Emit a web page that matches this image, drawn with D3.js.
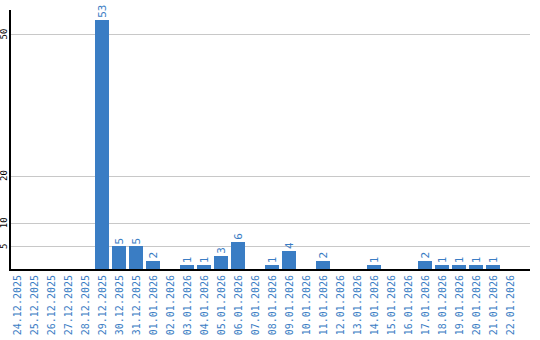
<!DOCTYPE html>
<html>
<head>
<meta charset="utf-8">
<script src="https://cdn.jsdelivr.net/npm/d3@7"></script>
<style>
  body { margin: 0; background: #fff; }
  svg { display: block; }
</style>
</head>
<body>
<script>
// даты и количество
const dates = [
  "24.12.2025", "25.12.2025", "26.12.2025", "27.12.2025", "28.12.2025",
  "29.12.2025", "30.12.2025", "31.12.2025", "01.01.2026", "02.01.2026",
  "03.01.2026", "04.01.2026", "05.01.2026", "06.01.2026", "07.01.2026",
  "08.01.2026", "09.01.2026", "10.01.2026", "11.01.2026", "12.01.2026",
  "13.01.2026", "14.01.2026", "15.01.2026", "16.01.2026", "17.01.2026",
  "18.01.2026", "19.01.2026", "20.01.2026", "21.01.2026", "22.01.2026"
];
const counts = [0, 0, 0, 0, 0, 53, 5, 5, 2, 0, 1, 1, 3, 6, 0, 1, 4, 0, 2, 0, 0, 1, 0, 0, 2, 1, 1, 1, 1, 0];
const yTicks = [5, 10, 20, 50];

const width = 540;
const height = 340;
const margin = { top: 10, right: 10, bottom: 70, left: 10 };
const blue = "#3a7dc4";
const mono = "'DejaVu Sans Mono', 'Liberation Mono', monospace";

const svg = d3.select("body").append("svg").attr("width", width).attr("height", height);

const x = d3.scaleBand()
  .domain(dates)
  .range([margin.left, margin.left + 507])
  .paddingInner(3 / 17)
  .paddingOuter(0)
  .align(0);

const y = d3.scaleLinear()
  .domain([0, 57.2])
  .range([height - margin.bottom, 0]);

// сетка
svg.append("g")
  .selectAll("line")
  .data(yTicks)
  .enter()
  .append("line")
  .attr("x1", margin.left)
  .attr("x2", width - margin.right)
  .attr("y1", (d) => Math.round(y(d)) + 0.5)
  .attr("y2", (d) => Math.round(y(d)) + 0.5)
  .attr("stroke", "#c8c8c8")
  .attr("stroke-width", 1);

// подписи оси Y
svg.append("g")
  .selectAll("text")
  .data(yTicks)
  .enter()
  .append("text")
  .attr("transform", (d) => `translate(7,${y(d)}) rotate(-90)`)
  .attr("text-anchor", "middle")
  .style("font-family", mono)
  .style("font-size", "9px")
  .attr("fill", "#000")
  .text((d) => d);

const bars = dates.map((d, i) => ({ date: d, value: counts[i] })).filter((d) => d.value > 0);

// столбцы
svg.append("g")
  .selectAll("rect")
  .data(bars)
  .enter()
  .append("rect")
  .attr("x", (d) => Math.round(x(d.date)))
  .attr("width", Math.round(x.bandwidth()))
  .attr("y", (d) => Math.round(y(d.value)))
  .attr("height", (d) => y(0) - Math.round(y(d.value)))
  .attr("fill", blue);

// значения над столбцами
svg.append("g")
  .selectAll("text")
  .data(bars)
  .enter()
  .append("text")
  .attr("transform", (d) => `translate(${x(d.date) + x.bandwidth() / 2 + 4},${y(d.value) - 2}) rotate(-90)`)
  .attr("text-anchor", "start")
  .style("font-family", mono)
  .style("font-size", "11px")
  .attr("fill", blue)
  .text((d) => d.value);

// оси
svg.append("line")
  .attr("x1", margin.left).attr("x2", margin.left)
  .attr("y1", margin.top).attr("y2", y(0) + 1)
  .attr("stroke", "#000").attr("stroke-width", 2);

svg.append("line")
  .attr("x1", margin.left - 1).attr("x2", width - margin.right)
  .attr("y1", y(0)).attr("y2", y(0))
  .attr("stroke", "#000").attr("stroke-width", 2);

// подписи дат
svg.append("g")
  .selectAll("text")
  .data(dates)
  .enter()
  .append("text")
  .attr("transform", (d) => `translate(${x(d) + x.bandwidth() / 2 + 4},${y(0) + 5}) rotate(-90)`)
  .attr("text-anchor", "end")
  .style("font-family", mono)
  .style("font-size", "10px")
  .attr("fill", blue)
  .text((d) => d);
</script>
</body>
</html>
